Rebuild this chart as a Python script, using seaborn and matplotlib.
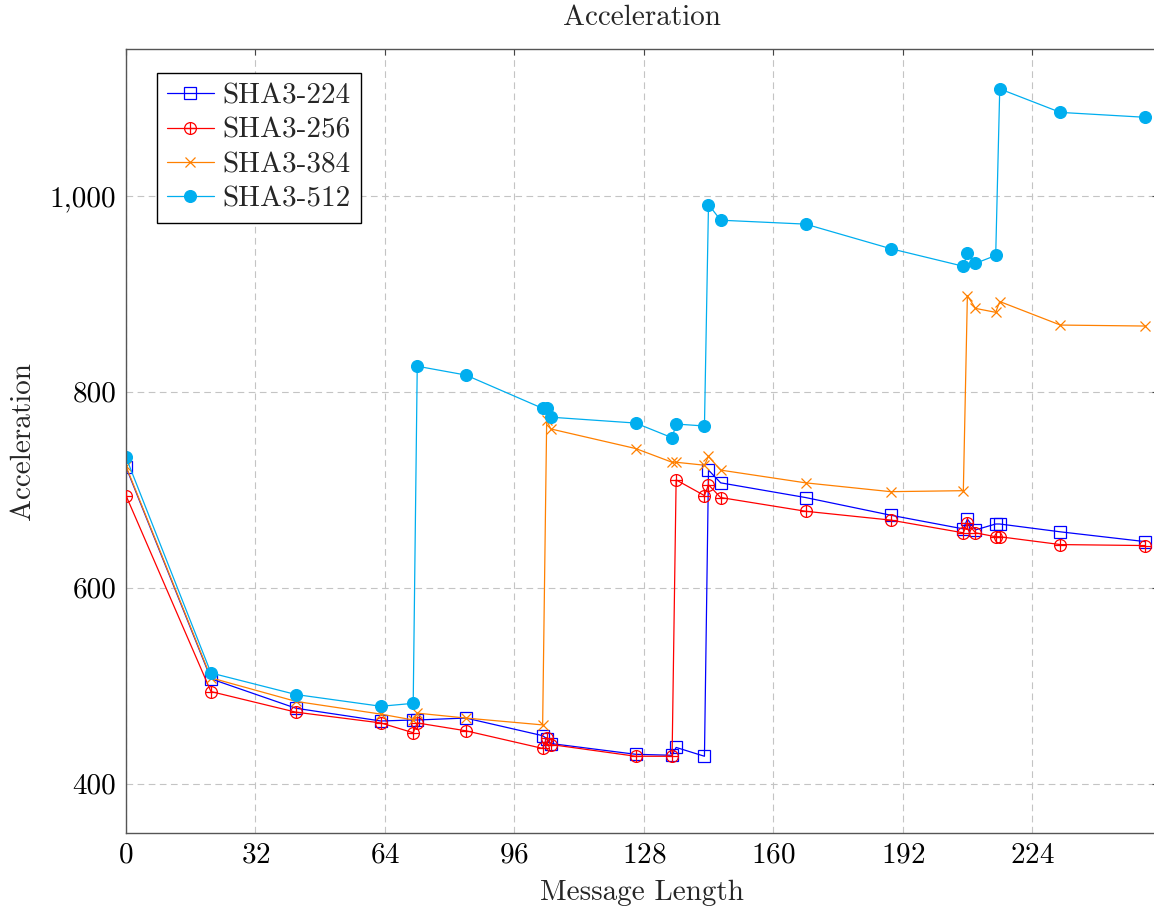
import matplotlib
matplotlib.use("Agg")
import matplotlib.pyplot as plt
from matplotlib.ticker import FuncFormatter, MultipleLocator
from matplotlib.legend_handler import HandlerTuple
from matplotlib.lines import Line2D
import seaborn as sns
import pandas as pd

# message lengths (bytes) sampled for every hash
msg_len = [0, 21, 42, 63, 71, 72, 84, 103, 104, 105, 126, 135, 136,
           143, 144, 147, 168, 189, 207, 208, 210, 215, 216, 231, 252]

sha3_224 = [723, 507, 477, 464, 465, 465, 467, 449, 446, 441, 430, 429, 437,
            428, 720, 707, 692, 674, 660, 670, 659, 665, 665, 657, 647]
sha3_256 = [694, 494, 473, 462, 452, 462, 454, 436, 447, 440, 428, 428, 710,
            694, 705, 692, 678, 669, 656, 666, 656, 652, 652, 644, 643]
sha3_384 = [724, 508, 484, 471, 465, 472, 467, 460, 771, 762, 742, 728, 728,
            725, 734, 720, 707, 698, 699, 898, 885, 881, 892, 868, 867]
sha3_512 = [733, 513, 491, 479, 482, 826, 817, 783, 783, 774, 768, 753, 767,
            765, 991, 975, 971, 946, 928, 942, 931, 939, 1109, 1085, 1080]

names = ["SHA3-224", "SHA3-256", "SHA3-384", "SHA3-512"]
series = [sha3_224, sha3_256, sha3_384, sha3_512]

sns.set_style("white")
plt.rcParams["font.family"] = ["cmr10", "DejaVu Serif"]
plt.rcParams["mathtext.fontset"] = "cm"
plt.rcParams["axes.formatter.use_mathtext"] = True

FS = 21

fig = plt.figure(figsize=(11.54, 9.10), dpi=100)
ax = fig.add_axes([126 / 1154, 1 - 832.7 / 910, 1031.5 / 1154, 784 / 910])

# colour, marker, marker face, size
styles = [
    ("#0000ff", "s", "none", 8),
    ("#ff0000", "o", "none", 8.5),
    ("#ff8000", "x", "#ff8000", 6.5),
    ("#00aeef", "o", "#00aeef", 8.5),
]

handles = []
for name, vals, (col, mk, mfc, ms) in zip(names, series, styles):
    df = pd.DataFrame({"len": msg_len, "acc": vals})
    sns.lineplot(data=df, x="len", y="acc", ax=ax, color=col, lw=0.9,
                 marker=mk, markersize=ms, mfc=mfc, mec=col, mew=0.9)
    h = Line2D([], [], color=col, lw=0.9, marker=mk, markersize=ms,
               mfc=mfc, mec=col, mew=0.9)
    if name == "SHA3-256":
        # circle with a plus inside (oplus)
        sns.scatterplot(data=df, x="len", y="acc", ax=ax, marker="+",
                        s=ms ** 2, color=col, linewidth=0.9, zorder=3)
        h = (h, Line2D([], [], ls="none", marker="+", markersize=ms,
                       mec=col, mew=0.9))
    handles.append(h)

ax.set_xlim(0, 255)
ax.set_ylim(350, 1150)
ax.xaxis.set_major_locator(MultipleLocator(32))
ax.yaxis.set_major_locator(MultipleLocator(200))
ax.yaxis.set_major_formatter(FuncFormatter(lambda v, p: f"{v:,.0f}"))
ax.grid(True, color="#c4c4c4", lw=0.8, ls=(0, (6, 4)))
ax.tick_params(direction="in", top=True, right=True, length=4,
               labelsize=FS, colors="#444444", labelcolor="black", pad=7)
for s in ax.spines.values():
    s.set_color("#555555")
    s.set_linewidth(1.0)

ax.set_title("Acceleration", fontsize=FS, pad=17)
ax.set_xlabel("Message Length", fontsize=FS, labelpad=8)
ax.set_ylabel("Acceleration", fontsize=FS, labelpad=10)

leg = ax.legend(handles, names, handler_map={tuple: HandlerTuple(ndivide=1)},
                loc="upper left", bbox_to_anchor=(0.030, 0.969), fontsize=FS,
                frameon=True, fancybox=False, edgecolor="black", framealpha=1,
                handlelength=1.6, handletextpad=0.3, labelspacing=0.27,
                borderpad=0.35, borderaxespad=0)
leg.get_frame().set_linewidth(1.0)

fig.savefig("out.png", dpi=100)
